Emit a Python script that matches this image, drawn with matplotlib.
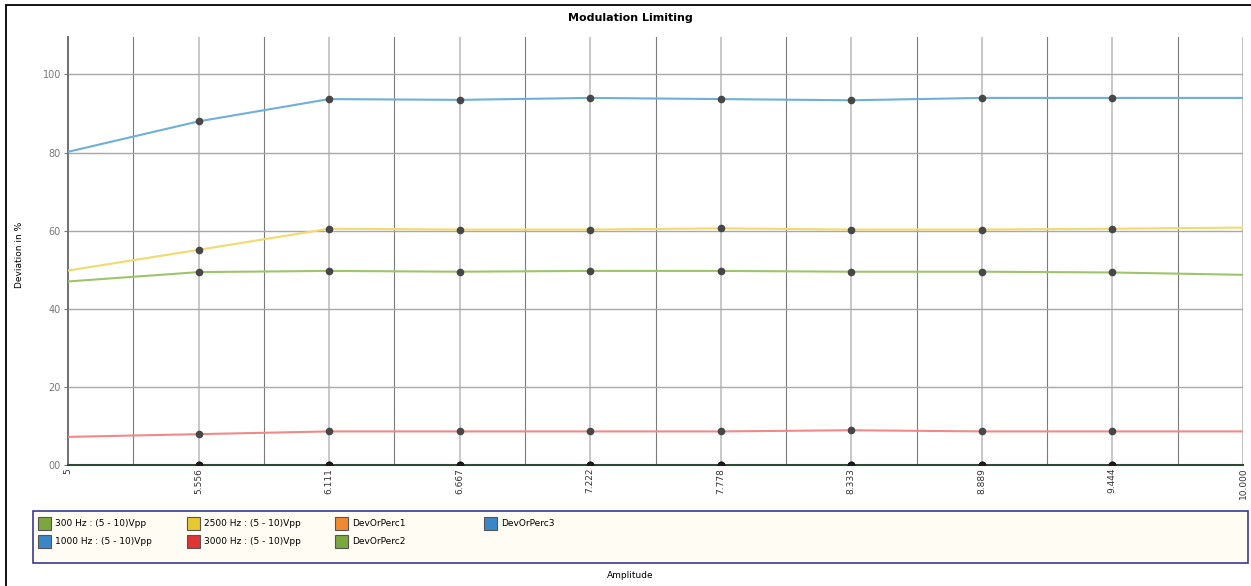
import numpy as np
import matplotlib.pyplot as plt
from matplotlib.patches import Rectangle

# amplitude sweep (Vpp) and measured deviation (%)
amplitude = [5.0, 5.556, 6.111, 6.667, 7.222, 7.778, 8.333, 8.889, 9.444, 10.0]
tick_labels = ["5", "5.556", "6.111", "6.667", "7.222", "7.778", "8.333", "8.889", "9.444", "10.000"]
dev_300 = [47.0, 49.4, 49.7, 49.5, 49.7, 49.7, 49.5, 49.5, 49.3, 48.7]
dev_1000 = [80.2, 88.0, 93.7, 93.5, 94.0, 93.7, 93.4, 94.0, 94.0, 94.0]
dev_2500 = [49.8, 55.1, 60.5, 60.3, 60.3, 60.6, 60.3, 60.3, 60.5, 60.8]
dev_3000 = [7.2, 7.9, 8.6, 8.6, 8.6, 8.6, 8.9, 8.6, 8.6, 8.6]
dev_perc = [0, 0, 0, 0, 0, 0, 0, 0, 0, 0]

series = [
    ("300 Hz : (5 - 10)Vpp", dev_300, "#9fc46b", "#7aa83c"),
    ("1000 Hz : (5 - 10)Vpp", dev_1000, "#6fafd9", "#3a87c8"),
    ("2500 Hz : (5 - 10)Vpp", dev_2500, "#f2da6e", "#e8c830"),
    ("3000 Hz : (5 - 10)Vpp", dev_3000, "#f08a8a", "#e03535"),
]
extra = [("DevOrPerc1", "#f08a30"), ("DevOrPerc2", "#7aa83c"), ("DevOrPerc3", "#3a87c8")]

W, H = 1251, 586
fig = plt.figure(figsize=(W / 100, H / 100), dpi=100)
fig.patch.set_facecolor("white")

# outer frame
fig.patches.append(Rectangle((6 / W, -0.1), 1.2, (H - 5) / H + 0.1, transform=fig.transFigure,
                             fill=False, edgecolor="black", lw=1.3))

ax = fig.add_axes([68 / W, 1 - 465 / H, (1243 - 68) / W, (465 - 37) / H])
ax.set_xlim(5, 10)
ax.set_ylim(0, 109.6)

ax.set_xticks(amplitude)
ax.set_xticklabels(tick_labels, rotation=90, fontsize=6.5, color="#333333")
ax.set_xticks([(a + b) / 2 for a, b in zip(amplitude[:-1], amplitude[1:])], minor=True)
ax.set_yticks([0, 20, 40, 60, 80, 100])
ax.set_yticklabels(["00", "20", "40", "60", "80", "100"], fontsize=7, color="#777777")
ax.tick_params(axis="x", which="both", length=0, pad=2)
ax.tick_params(axis="y", length=3, color="#777777", pad=2)

ax.grid(True, axis="x", which="major", color="#c4c4c4", lw=1.3, zorder=0)
ax.grid(True, axis="x", which="minor", color="#7a7a7a", lw=0.8, zorder=0)
ax.grid(True, axis="y", color="#a8a8a8", lw=1.0, zorder=0)
ax.axvline(10, color="#b0b0b0", lw=1.3, zorder=0)

for s in ["top", "right"]:
    ax.spines[s].set_visible(False)
ax.spines["left"].set_color("#707070")
ax.spines["left"].set_linewidth(1.4)
ax.spines["bottom"].set_color("#2f4a34")
ax.spines["bottom"].set_linewidth(1.5)

inner = list(range(1, len(amplitude) - 1))
for name, vals, lc, _ in series:
    ax.plot(amplitude, vals, color=lc, lw=1.5, zorder=3,
            marker="o", markevery=inner, ms=4.5, mfc="#474747", mec="#474747")
for name, c in extra:
    ax.plot(amplitude, dev_perc, color="#2f4a34", lw=1.3, zorder=3,
            marker="o", markevery=inner, ms=4.5, mfc="#1a1a1a", mec="#1a1a1a")

fig.text(630 / W, 1 - 18 / H, "Modulation Limiting", ha="center", va="center",
         fontsize=8, fontweight="bold")
fig.text(630 / W, 1 - 576 / H, "Amplitude", ha="center", va="center", fontsize=6.5)
fig.text(19 / W, 1 - 255 / H, "Deviation in %", ha="center", va="center",
         rotation=90, fontsize=6.5)

# legend box
fig.patches.append(Rectangle((33 / W, 1 - 563 / H), (1248 - 33) / W, 52 / H,
                             transform=fig.transFigure, facecolor="#fffcf4",
                             edgecolor="#3a3a90", lw=1.2))
entries = [(series[0][0], series[0][3]), (series[1][0], series[1][3]),
           (series[2][0], series[2][3]), (series[3][0], series[3][3]),
           (extra[0][0], extra[0][1]), (extra[1][0], extra[1][1]),
           (extra[2][0], extra[2][1])]
col_x = [38, 187, 335, 484]
row_y = [523, 541]
for i, (label, c) in enumerate(entries):
    cx = col_x[i // 2]
    cy = row_y[i % 2]
    fig.patches.append(Rectangle((cx / W, 1 - (cy + 6.5) / H), 13 / W, 13 / H,
                                 transform=fig.transFigure, facecolor=c,
                                 edgecolor="#555555", lw=0.8))
    fig.text((cx + 17) / W, 1 - cy / H, label, ha="left", va="center", fontsize=6.5)

fig.savefig("out.png", dpi=100)
